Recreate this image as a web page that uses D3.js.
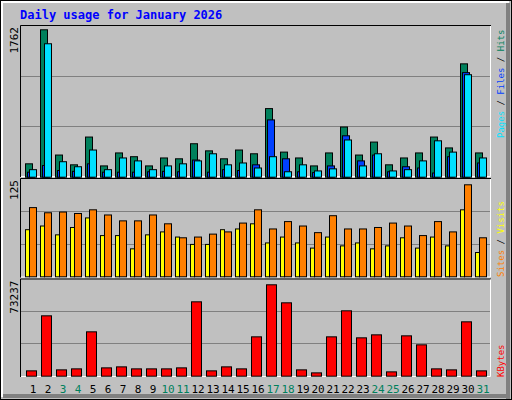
<!DOCTYPE html>
<html><head><meta charset="utf-8">
<script src="https://cdn.jsdelivr.net/npm/d3@7"></script>
<style>body{margin:0;background:#fff}</style>
</head><body>
<script>
const days = d3.range(1, 32);
const weekendDays = [3, 4, 10, 11, 17, 18, 24, 25, 31];
const hits = [160,1762,265,148,480,135,290,245,135,230,220,400,315,220,325,280,820,300,230,135,290,600,265,420,148,230,290,480,350,1355,290];
const files = [60,140,80,70,160,60,60,60,65,70,65,205,60,90,80,148,685,220,65,55,135,495,195,265,65,125,110,50,245,1250,170];
const pages = [90,1595,185,125,325,90,230,195,90,135,160,195,280,148,170,110,245,65,148,75,100,445,135,280,75,90,195,435,300,1225,230];
const sites = [64,69,57,67,80,56,56,38,57,61,54,44,44,64,65,72,46,54,46,39,54,42,46,38,42,53,39,54,42,91,33];
const visits = [94,87,88,86,91,84,76,76,84,72,53,54,58,61,73,91,65,75,69,60,83,65,65,67,73,69,56,75,61,125,53];
const kbytes = [4280,48380,5080,5880,35550,6680,7480,5880,5880,5880,6680,59600,4280,7480,5880,31540,73237,58800,5080,2670,31540,52390,30740,33140,3470,32340,25120,5880,5080,43570,4280];

const W = 512, H = 400;
const svg = d3.select("body").append("svg").attr("width", W).attr("height", H);
const MONO = "DejaVu Sans Mono, monospace";

// frame
svg.append("rect").attr("x", 0).attr("y", 0).attr("width", W).attr("height", H).attr("fill", "#c0c0c0");
svg.append("rect").attr("x", 506).attr("y", 3).attr("width", 4).attr("height", 396).attr("fill", "#808080");
svg.append("rect").attr("x", 3).attr("y", 394).attr("width", 507).attr("height", 4).attr("fill", "#808080");
svg.append("path").attr("d", "M1.5,397V1.5H509").attr("stroke", "#fff").attr("stroke-width", 3).attr("fill", "none");
svg.append("rect").attr("x", 0.5).attr("y", 0.5).attr("width", W - 1).attr("height", H - 1).attr("stroke", "#000").attr("fill", "none");

svg.append("text").attr("x", 20).attr("y", 19)
	.attr("font-family", MONO).attr("font-weight", "bold").attr("font-size", 12)
	.attr("fill", "#0000ff").text("Daily usage for January 2026");

const x = d3.scaleLinear().domain([1, 31]).range([25, 475]);

const panels = [
	{ top: 25, bottom: 177, max: 1762, base: 176.7, peak: 29.3 },
	{ top: 178, bottom: 277.5, max: 125, base: 276.3, peak: 184.3 },
	{ top: 278.5, bottom: 377, max: 73237, base: 375.7, peak: 284.3 }
];

panels.forEach(p => {
	p.y = d3.scaleLinear().domain([0, p.max]).range([p.base, p.peak]);
	const g = svg.append("g");
	const h = p.base - p.top;
	[1 / 3, 2 / 3].forEach(f => {
		g.append("line").attr("x1", 21).attr("x2", 490)
			.attr("y1", Math.round(p.base - h * f) + 0.5).attr("y2", Math.round(p.base - h * f) + 0.5)
			.attr("stroke", "#808080");
	});
	g.append("path").attr("d", `M20.5,${p.bottom}V${p.top + 0.5}H491`)
		.attr("stroke", "#000").attr("fill", "none");
	g.append("path").attr("d", `M21,${p.bottom - 0.5}H490.5V${p.top + 1}`)
		.attr("stroke", "#fff").attr("fill", "none");
	g.append("text").attr("transform", `translate(18,${p.top + 2}) rotate(-90)`)
		.attr("text-anchor", "end").attr("font-family", MONO).attr("font-size", 11)
		.attr("fill", "#000").text(p.max);
	p.g = g;
});

function bars(p, data, dx, w, color) {
	p.g.append("g").selectAll("rect").data(data).join("rect")
		.attr("x", (d, i) => x(days[i]) + dx + 0.5)
		.attr("y", d => p.y(d) + 0.5)
		.attr("width", w)
		.attr("height", d => p.base - p.y(d))
		.attr("fill", color).attr("stroke", "#000");
}
bars(panels[0], hits, 0, 7, "#00805c");
bars(panels[0], files, 2, 7, "#0040ff");
bars(panels[0], pages, 4, 7, "#00e0ff");
bars(panels[1], sites, 0, 4, "#ffff00");
bars(panels[1], visits, 4, 7, "#ff8000");
bars(panels[2], kbytes, 1, 10, "#ff0000");

// day labels
svg.append("g").selectAll("text").data(days).join("text")
	.attr("x", d => x(d) + 8).attr("y", 393)
	.attr("text-anchor", "middle").attr("font-family", MONO).attr("font-size", 11)
	.attr("fill", d => weekendDays.includes(d) ? "#00805c" : "#000")
	.text(d => d);

// right legends
function legend(yStart, parts) {
	const t = svg.append("text").attr("transform", `translate(504,${yStart}) rotate(-90)`)
		.attr("font-family", MONO).attr("font-size", 9);
	parts.forEach(([s, c]) => t.append("tspan").attr("fill", c).text(s));
}
legend(138, [["Pages", "#00e0ff"], [" / ", "#000"], ["Files", "#0040ff"], [" / ", "#000"], ["Hits", "#00805c"]]);
legend(277, [["Sites", "#ff8000"], [" / ", "#000"], ["Visits", "#ffff00"]]);
legend(377, [["KBytes", "#ff0000"]]);
</script>
</body></html>
